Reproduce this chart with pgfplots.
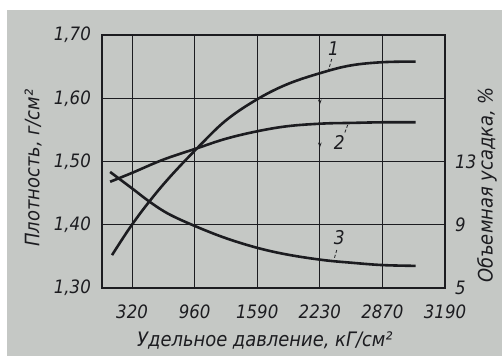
\documentclass[border=0pt]{standalone}
\usepackage{fontspec}
\setmainfont{DejaVu Sans Condensed}
\usepackage{pgfplots}
\pgfplotsset{compat=1.18}
\usetikzlibrary{arrows.meta}

\definecolor{paper}{RGB}{197,200,197}
\definecolor{ink}{RGB}{28,28,32}

% shared frame geometry of both axes (pressure on a stepped scale 0..5)
\pgfplotsset{
  gost/.style={
    scale only axis, width=343bp, height=253bp,
    at={(102bp,68bp)}, anchor=south west,
    xmin=-0.48, xmax=5,
    major tick length=0pt, tick style={draw=none},
    ticklabel style={font=\fontsize{18.5}{18.5}\selectfont\itshape, text=ink, inner sep=0pt},
    label style={font=\fontsize{20}{20}\selectfont\itshape, text=ink, inner sep=0pt},
    axis line style={ink, line width=1.3bp},
  },
  curve/.style={ink, line width=2.6bp, smooth, tension=0.6},
}

\begin{document}
\begin{tikzpicture}[x=1bp,y=1bp]
\useasboundingbox (0,0) rectangle (502,356);
\fill[paper] (0,0) rectangle (502,356);
\fill[white] (0,346) rectangle (502,356);
\fill[white] (0,0) rectangle (7,356);

% density, g/cm^3 (curves 1 and 2)
\begin{axis}[gost,
  ymin=1.30, ymax=1.70,
  xtick={0,1,2,3,4,5},
  xticklabels={320,960,1590,2230,2870,3190},
  xticklabel style={anchor=north, yshift=-17bp},
  ytick={1.3,1.4,1.5,1.6,1.7},
  yticklabels={{1,30},{1,40},{1,50},{1,60},{1,70}},
  yticklabel style={anchor=east, xshift=-11bp},
  grid=major, grid style={ink, line width=0.9bp},
  xlabel={Удельное давление, кГ/см²},
  xlabel style={at={(axis description cs:0.475,-0.2055)}, anchor=center},
  ylabel={Плотность, г/см²},
  ylabel style={at={(axis description cs:-0.201,0.474)}, anchor=center},
]
\addplot[curve] coordinates {
  (-0.32,1.352) (-0.03,1.396) (0.27,1.436) (0.6,1.475) (1.04,1.521)
  (1.5,1.565) (2.01,1.599) (2.5,1.623) (3.05,1.641) (3.5,1.652) (4,1.657) (4.53,1.658)
};
\addplot[curve] coordinates {
  (-0.35,1.468) (0,1.482) (0.5,1.503) (1.04,1.521) (1.5,1.536)
  (2.01,1.548) (2.5,1.556) (3.05,1.560) (3.5,1.561) (4,1.562) (4.53,1.562)
};
% curve labels with their leaders
\node[font=\fontsize{19}{19}\selectfont\itshape, text=ink] at (axis cs:3.22,1.679) {1};
\draw[ink, line width=0.8bp, densely dashed] (axis cs:3.19,1.662) -- (axis cs:3.14,1.645);
\node[font=\fontsize{19}{19}\selectfont\itshape, text=ink] at (axis cs:3.31,1.530) {2};
\draw[ink, line width=0.8bp, densely dashed] (axis cs:3.40,1.546) -- (axis cs:3.45,1.559);
% markers on the 2230 line
\draw[ink, line width=1.2bp, -{Stealth[length=5bp,width=3.5bp]}] (axis cs:3,1.605) -- (axis cs:3,1.590);
\draw[ink, line width=1.2bp, -{Stealth[length=5bp,width=3.5bp]}] (axis cs:3,1.540) -- (axis cs:3,1.522);
\end{axis}

% volume shrinkage, % (curve 3)
\begin{axis}[gost,
  ymin=5, ymax=21,
  axis x line=none, axis y line*=right,
  ytick={5,9,13},
  yticklabels={5,9,13},
  yticklabel style={anchor=west, xshift=10bp},
  ylabel={Объемная усадка, \%},
  ylabel style={at={(axis description cs:1.122,0.407)}, anchor=center},
]
\addplot[curve] coordinates {
  (-0.35,12.34) (0,11.3) (0.3,10.4) (0.6,9.65) (1.04,8.86) (1.5,8.15)
  (2.01,7.53) (2.5,7.1) (3.05,6.77) (3.5,6.6) (4,6.45) (4.53,6.4)
};
\node[font=\fontsize{19}{19}\selectfont\itshape, text=ink] at (axis cs:3.31,8.2) {3};
\draw[ink, line width=0.8bp, densely dashed] (axis cs:3.27,7.4) -- (axis cs:3.23,6.85);
\end{axis}
\end{tikzpicture}
\end{document}
